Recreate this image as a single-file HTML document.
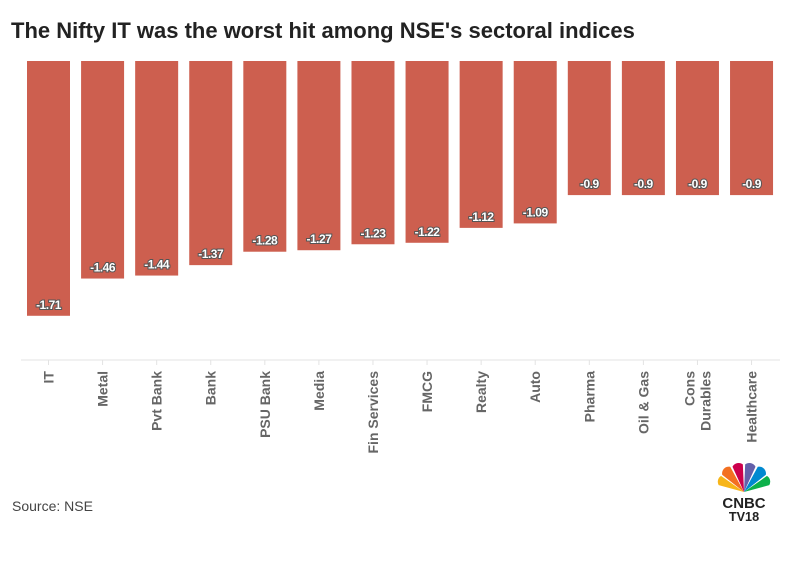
<!DOCTYPE html>
<html><head><style>
body{margin:0;background:#fff;}
svg{display:block;font-family:"Liberation Sans",sans-serif;}
</style></head><body>
<svg width="796" height="575" viewBox="0 0 796 575">
<text x="11" y="38" font-size="22" font-weight="bold" fill="#222">The Nifty IT was the worst hit among NSE's sectoral indices</text>
<line x1="21" y1="360" x2="780" y2="360" stroke="#e3e3e3" stroke-width="1"/>
<g id="bars"></g>
<text x="12" y="511" font-size="14" fill="#444">Source: NSE</text>
<g transform="translate(744,492) scale(1.15)">
<path d="M0,0 L-22,-6 A6,6 0 0 1 -20,-14 Z" fill="#f7b519"/>
<path d="M0,0 L-19,-15 A6,6 0 0 1 -12,-22 Z" fill="#f37021"/>
<path d="M0,0 L-10,-22 A6,6 0 0 1 -1,-24 Z" fill="#cc004c"/>
<path d="M0,0 L1,-24 A6,6 0 0 1 10,-22 Z" fill="#6460aa"/>
<path d="M0,0 L12,-22 A6,6 0 0 1 19,-15 Z" fill="#0089d0"/>
<path d="M0,0 L20,-14 A6,6 0 0 1 22,-6 Z" fill="#0db14b"/>
<text x="0" y="14" font-size="13" font-weight="900" text-anchor="middle" fill="#222">CNBC</text>
<text x="0" y="25" font-size="11" font-weight="900" text-anchor="middle" fill="#222">TV18</text>
</g>
</svg>
<script>
var d=[["IT",-1.71],["Metal",-1.46],["Pvt Bank",-1.44],["Bank",-1.37],["PSU Bank",-1.28],["Media",-1.27],["Fin Services",-1.23],["FMCG",-1.22],["Realty",-1.12],["Auto",-1.09],["Pharma",-0.9],["Oil & Gas",-0.9],["Cons|Durables",-0.9],["Healthcare",-0.9]];
var g=document.getElementById("bars"),s="";
d.forEach(function(e,i){var cx=48.5+i*54.08,h=-e[1]*149,b=61+h;
s+='<rect x="'+(cx-21.5)+'" y="61" width="43" height="'+h+'" fill="#cd5f4f"/>';
s+='<text x="'+cx+'" y="'+(b-7)+'" font-size="12" font-weight="bold" text-anchor="middle" fill="#fff" stroke="#555" stroke-width="2" paint-order="stroke" letter-spacing="-0.5">'+e[1]+'</text>';
s+='<line x1="'+cx+'" y1="360" x2="'+cx+'" y2="365" stroke="#e3e3e3"/>';
var p=e[0].split("|");
var st=' font-size="14" font-weight="bold" text-anchor="end" fill="#666"';
if(p.length==1){s+='<text transform="translate('+(cx+5)+',371) rotate(-90)"'+st+'>'+p[0].replace("&","&amp;")+'</text>';}
else{s+='<text transform="translate('+(cx-3)+',371) rotate(-90)"'+st+'>'+p[0]+'</text><text transform="translate('+(cx+13)+',371) rotate(-90)"'+st+'>'+p[1]+'</text>';}
});
g.innerHTML=s;
</script>
</body></html>
